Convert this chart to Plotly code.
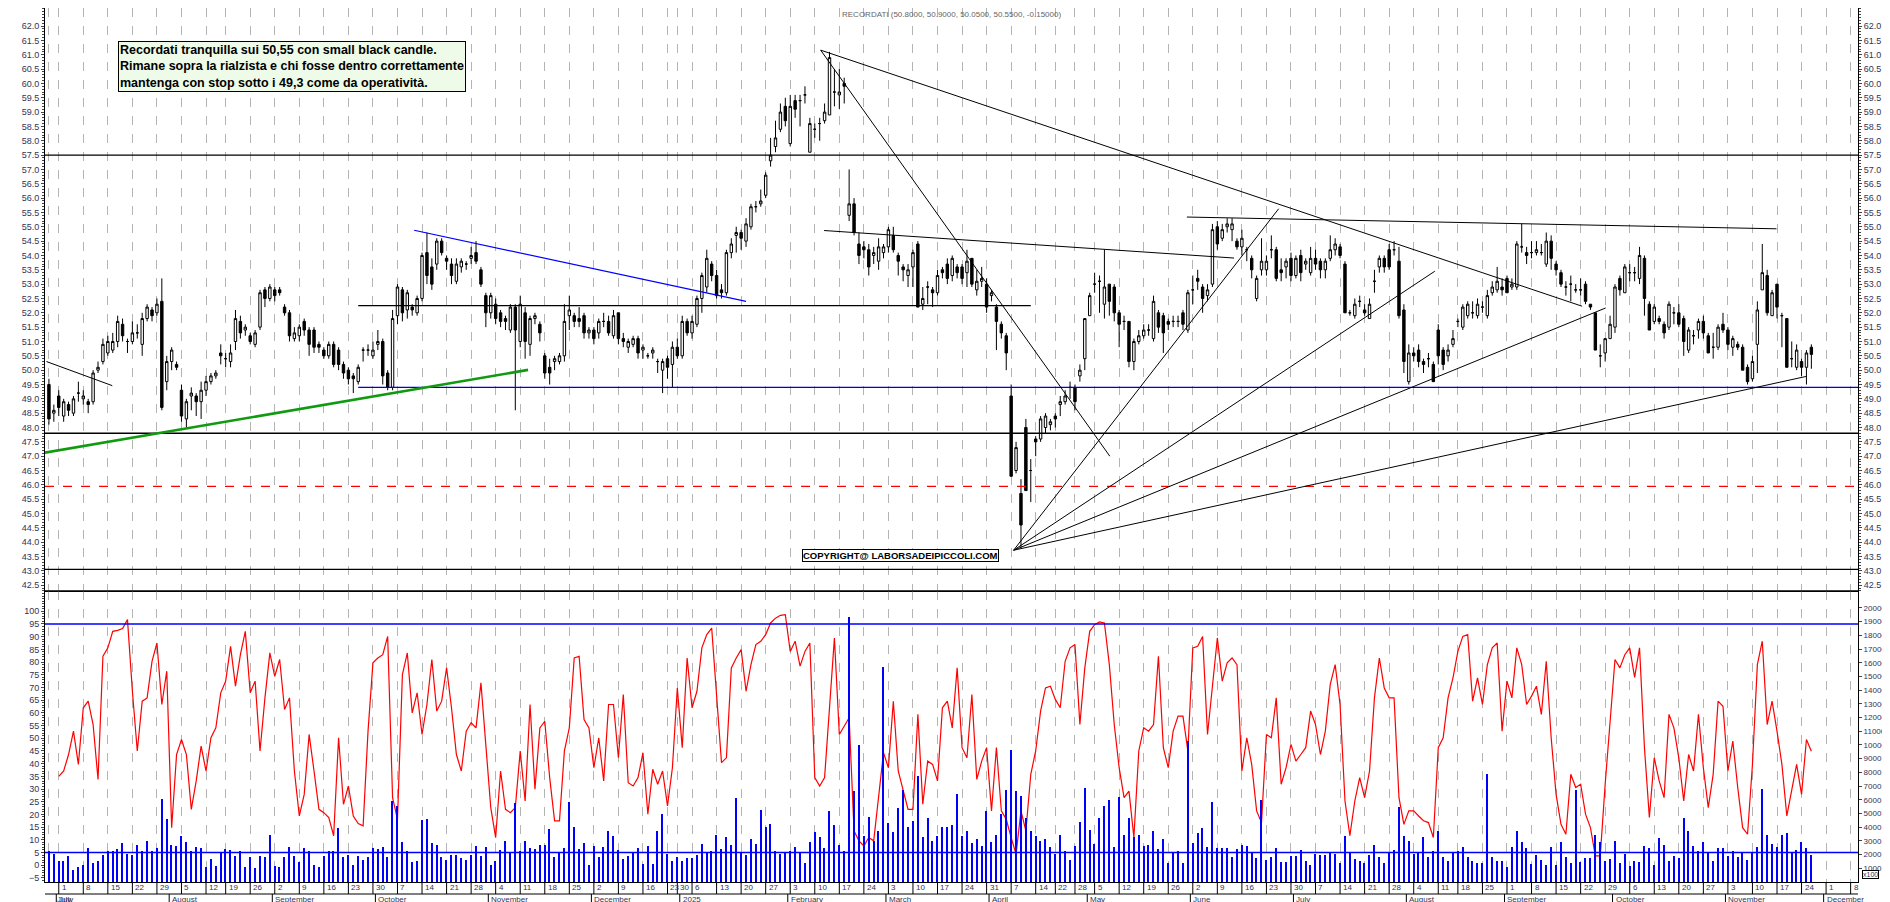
import pandas as pd
import plotly.graph_objects as go

# --- daily candles, Recordati, 27 Jun 2024 -> 26 Nov 2025 (Borsa Italiana trading days)
OPEN = [
    49.5,48.5,49.1,48.4,48.8,48.5,49.2,49.0,48.9,48.9, 50.0,50.3,50.6,50.7,51.0,51.6,51.0,51.0,51.3,50.9,
    51.8,52.1,52.0,52.4,49.6,50.3,50.2,49.3,48.3,49.1, 49.1,48.9,49.3,49.6,49.8,50.6,50.4,50.3,51.0,51.7,
    51.4,51.2,50.9,51.5,52.8,52.5,52.8,52.8,52.2,52.0, 51.1,51.2,51.7,51.4,51.4,50.9,50.7,50.5,50.9,50.7,
    50.2,50.0,49.8,49.6,50.7,50.7,50.5,50.9,51.0,49.9, 49.4,51.9,52.8,52.1,52.2,52.0,52.5,54.1,53.6,53.7,
    54.5,53.9,53.7,53.1,53.6,53.7,53.9,54.1,53.5,52.6, 52.0,52.3,52.0,51.8,51.4,52.2,
    51.0,52.0,50.9,51.8,51.6,50.5,50.1,50.3,50.3,50.5, 51.9,51.9,51.8,51.9,51.3,51.4,51.3,51.7,51.7,51.2,
    52.0,51.1,50.8,50.9,51.1,50.7,50.5,50.6,50.3,50.0, 50.4,50.2,50.8,50.5,51.7,51.3,51.6,52.5,52.9,53.7,
    53.3,52.8,52.7,54.1,54.7,54.8,54.5,55.0,55.7,55.8, 56.1,57.3,57.8,58.4,59.2,57.9,59.4,59.4,59.6,57.6,
    58.4,58.6,58.7,58.9,59.7,59.6,60.0,55.4,55.8,54.4, 54.3,54.2,54.0,53.8,54.1,54.3,54.7,54.0,53.6,53.3,
    53.6,54.4,52.3,52.9,52.8,52.7,53.5,53.7,53.3,53.6, 53.6,53.4,53.9,52.8,
    53.1,53.0,52.6,52.2,51.6,51.2,49.1,46.5,45.7,48.0, 46.5,47.6,47.6,48.0,48.1,48.4,48.8,48.9,49.4,49.4,
    49.8,50.4,51.9,53.0,53.1,52.3,53.0,52.9,52.0,51.7, 51.7,50.3,51.0,
    51.2,51.4,51.1,52.0,51.9,51.7,51.7,51.7,52.0,51.4, 52.8,53.2,52.9,52.6,53.0,55.0,54.6,55.0,54.9,54.5,
    54.3,54.2,53.9,52.5,53.5,53.5,54.2,54.2,53.5,53.6, 53.9,53.3,54.0,53.7,53.4,53.9,53.8,53.5,53.9,54.2,
    54.3,53.7,52.0,51.9,52.4,52.1,51.8,53.1,53.6,53.9, 54.2,54.2,53.8,52.1,49.6,50.6,50.7,50.3,50.4,50.2,
    51.4,50.7,50.5,50.9,51.7,51.5,51.9,52.0,51.9,52.2, 51.9,52.7,52.8,52.9,53.2,52.9,52.9,54.3,54.1,54.1,
    54.1,54.1,53.7,54.5,53.7,53.4,52.9,53.0,52.8,52.8, 53.0,52.3,52.0,50.5,50.6,51.1,51.5,53.2,52.7,53.4,
    53.4,53.2,53.9,52.3,51.7,51.8,51.6,51.5,52.0,52.0, 51.8,50.7,51.2,51.4,51.7,51.2,50.8,50.8,51.6,51.4,
    50.8,50.9,50.8,50.1,49.7,50.9,52.8,53.3,51.9,53.0, 51.9,51.8,50.4,50.1,50.3,50.1,50.8,
]
CLOSE = [
    48.3,48.6,48.7,48.9,48.6,49.0,49.2,49.1,48.8,49.9, 50.1,50.9,51.0,51.0,51.7,51.2,51.0,51.3,51.3,51.8,
    52.2,51.9,52.3,48.7,50.3,50.7,50.1,48.4,48.9,49.2, 48.9,49.3,49.6,49.8,49.9,50.5,50.4,50.6,51.8,51.3,
    51.5,51.0,51.3,52.7,52.5,52.9,52.6,52.7,52.0,51.2, 51.3,51.5,51.4,50.9,50.8,50.8,50.5,50.9,50.2,50.2,
    49.9,49.7,49.7,50.1,50.7,50.7,50.7,51.0,49.8,49.4, 51.8,52.9,52.0,52.7,52.1,52.5,54.0,53.3,53.0,54.5,
    54.1,53.8,53.3,53.7,53.8,53.7,54.0,53.8,53.0,52.0, 52.6,51.8,51.7,51.7,52.2,51.4,
    52.3,51.0,51.8,51.9,51.3,49.9,49.9,50.4,50.5,51.7, 52.1,51.7,51.7,51.3,51.4,51.1,51.7,51.7,51.3,51.9,
    51.1,51.0,51.0,51.1,50.6,50.8,50.5,50.7,50.3,50.3, 50.1,50.8,50.5,51.7,51.3,51.7,52.5,53.3,53.9,53.3,
    52.6,52.7,54.1,54.4,54.8,54.6,55.1,55.7,55.7,55.9, 56.8,57.5,58.1,59.0,58.7,59.2,59.1,59.4,59.6,58.6,
    58.4,58.6,59.0,60.9,59.7,59.7,59.9,55.8,54.8,54.0, 54.2,53.6,54.1,54.3,54.3,54.9,54.2,53.8,53.5,53.5,
    54.1,52.2,52.5,52.9,52.7,53.3,53.4,53.2,53.9,53.4, 53.2,53.8,53.0,53.1,
    53.2,52.2,52.7,51.7,51.3,50.6,46.3,47.3,44.6,45.8, 46.5,47.5,48.3,48.4,48.2,48.3,48.9,49.1,49.4,48.9,
    50.0,51.8,52.6,53.0,53.1,52.9,52.4,52.0,51.6,51.7, 50.3,51.0,51.2,
    51.4,51.4,52.4,51.5,51.3,51.6,51.7,51.7,51.6,52.7, 52.8,53.1,52.5,52.8,54.9,54.4,54.9,55.1,55.1,54.3,
    54.6,54.2,53.5,53.2,53.8,53.8,54.2,53.2,53.4,53.8, 53.3,53.9,53.4,53.8,53.9,53.7,53.5,53.8,54.2,54.4,
    54.0,52.0,52.0,52.3,52.4,52.0,52.3,53.1,53.9,53.6, 53.6,54.2,51.9,50.3,50.6,50.5,50.3,50.2,50.4,49.6,
    50.5,50.2,50.7,51.1,51.7,52.2,52.3,52.0,52.3,52.2, 52.6,52.9,53.1,52.8,52.7,53.0,54.4,54.3,54.0,54.1,
    54.2,54.1,54.5,53.9,53.5,53.0,52.9,53.0,52.8,52.8, 52.4,52.2,50.7,50.5,51.1,51.6,52.9,52.8,53.6,53.4,
    53.4,54.0,52.5,51.4,52.2,51.7,51.3,52.3,52.0,51.6, 51.0,51.4,51.2,51.7,51.3,50.6,50.8,51.5,51.4,50.9,
    51.1,50.8,50.0,49.6,50.3,52.1,53.4,52.0,52.7,52.2, 51.9,50.1,50.4,50.7,50.1,50.6,50.55,
]
HIGH = [
    49.7,48.8,49.3,49.0,48.9,49.1,49.6,49.3,49.0,50.0, 50.3,51.1,51.2,51.3,51.9,51.8,51.1,51.7,51.6,52.0,
    52.3,52.2,52.5,53.2,50.5,50.8,50.3,49.5,49.0,49.4, 49.2,49.6,49.8,49.9,50.0,50.9,50.6,50.9,52.1,51.9,
    51.6,51.3,51.4,52.8,52.9,53.0,52.9,52.9,52.3,52.1, 51.5,51.6,51.8,51.5,51.5,51.0,50.8,51.0,51.0,50.8,
    50.3,50.1,49.9,50.2,50.8,50.9,51.0,51.4,51.1,50.0, 52.1,53.0,52.9,52.8,52.3,52.6,54.1,54.8,53.9,54.6,
    54.6,54.0,53.9,53.9,53.9,53.8,54.3,54.5,53.6,52.7, 52.7,52.5,52.1,51.9,52.3,52.3,
    52.6,52.2,51.9,52.0,51.7,50.6,50.4,50.5,50.6,52.3, 52.6,52.0,52.2,52.0,51.5,51.5,51.8,52.0,51.9,52.1,
    52.0,51.3,51.1,51.2,51.2,50.9,50.6,50.8,50.4,50.4, 50.5,51.0,51.1,51.9,51.8,51.9,52.6,53.4,54.2,53.8,
    53.5,53.0,54.2,54.6,55.0,54.9,55.3,55.8,55.9,56.3, 56.9,58.1,58.7,59.3,59.5,59.6,59.6,59.6,59.9,58.8,
    58.6,58.8,59.3,61.1,60.5,60.5,60.2,57.0,56.0,54.8, 54.5,54.4,54.3,54.6,54.4,55.0,55.0,54.1,53.7,53.7,
    54.2,54.5,52.9,53.1,52.9,53.5,53.6,53.9,54.0,53.7, 53.7,54.2,53.9,53.5,
    53.6,53.2,52.8,52.3,51.7,51.3,49.5,47.5,46.2,48.3, 46.9,47.7,48.4,48.5,48.3,48.5,49.1,49.3,49.6,49.5,
    50.2,51.8,52.7,53.4,53.3,54.2,53.0,53.0,52.1,51.9, 51.7,51.1,51.4,
    51.6,51.6,52.6,52.1,52.0,51.8,51.9,51.9,52.1,52.8, 53.3,53.5,53.0,53.0,55.1,55.2,55.1,55.3,55.3,54.6,
    54.9,54.3,54.0,53.3,54.6,54.0,54.7,54.3,53.9,53.9, 54.1,54.0,54.2,53.9,54.3,54.2,53.9,53.9,54.7,54.6,
    54.4,53.8,52.1,52.5,52.6,52.3,52.5,53.5,54.0,54.0, 54.4,54.5,54.3,52.3,50.9,50.8,50.9,50.4,50.6,50.3,
    51.6,50.8,50.9,51.4,51.8,52.3,52.4,52.4,52.5,52.4, 52.8,53.1,53.6,53.2,53.3,53.2,54.5,55.1,54.3,54.5,
    54.5,54.4,54.8,54.7,53.8,53.5,53.1,53.3,53.0,53.2, 53.1,52.3,52.0,50.9,51.1,51.9,53.0,53.3,53.7,53.7,
    53.6,54.3,54.0,52.4,52.3,51.9,51.7,52.4,52.2,52.3, 51.9,51.5,51.4,51.8,51.9,51.3,51.3,51.6,52.0,51.5,
    51.2,51.0,50.9,50.2,50.5,52.4,54.4,53.5,52.8,53.0, 52.0,51.8,51.0,50.9,50.4,50.7,50.9,
]
LOW = [
    48.1,48.2,48.4,48.2,48.4,48.4,48.9,48.8,48.5,48.8, 49.9,50.2,50.5,50.6,50.8,51.0,50.6,50.9,51.1,50.5,
    51.7,51.7,51.9,48.6,49.3,50.0,50.0,48.2,48.0,48.6, 48.4,48.3,49.1,49.5,49.7,50.2,50.1,50.1,50.7,51.1,
    51.2,50.9,50.8,51.4,52.2,52.4,52.4,52.6,51.9,51.0, 51.0,51.0,51.2,50.5,50.6,50.6,50.4,50.4,50.1,50.0,
    49.7,49.5,49.2,49.5,50.3,50.5,50.4,50.7,49.5,49.3, 49.3,51.6,51.7,51.8,51.9,51.9,52.4,53.0,52.8,53.5,
    54.0,53.5,53.0,53.0,53.4,53.5,53.7,53.7,52.9,51.5, 51.8,51.6,51.5,51.4,51.3,48.6,
    50.8,50.4,50.5,51.6,51.0,49.7,49.5,50.0,50.2,50.3, 51.4,51.5,51.5,51.1,51.1,50.9,51.1,51.5,51.2,51.1,
    50.9,50.8,50.6,50.8,50.4,50.4,50.4,50.4,49.9,49.2, 49.7,49.4,50.4,50.4,51.2,51.1,51.5,52.0,52.7,53.1,
    52.5,52.5,52.6,53.9,54.1,54.2,54.3,54.9,55.5,55.7, 56.0,57.1,57.6,58.3,58.5,57.8,58.8,58.5,59.3,57.6,
    58.1,58.0,58.6,58.9,59.2,59.1,59.3,55.2,54.7,53.7, 53.9,53.3,53.7,53.5,53.9,54.1,54.1,53.3,53.1,52.9,
    52.9,52.2,52.1,52.3,52.2,52.6,53.2,53.0,53.1,53.2, 53.0,52.9,52.9,52.6,
    52.9,52.0,52.4,50.7,51.1,50.0,46.3,46.4,43.8,45.8, 45.4,47.0,47.5,47.8,47.9,48.0,48.4,48.8,49.0,48.6,
    49.6,50.0,51.9,52.7,52.0,51.8,51.9,51.7,50.8,51.4, 50.1,50.0,50.9,
    51.1,51.2,51.0,51.3,50.6,51.4,51.5,51.5,51.4,51.3, 52.3,52.8,52.0,52.4,52.9,54.2,54.5,54.8,54.5,54.2,
    54.0,53.8,53.2,52.4,53.3,53.3,53.9,53.1,53.1,53.2, 53.1,53.2,53.1,53.5,53.3,53.5,53.2,53.2,53.8,54.0,
    53.9,52.0,51.9,51.8,52.2,51.9,51.8,52.7,53.4,53.4, 53.5,54.0,51.8,49.9,49.5,50.3,50.1,49.9,50.1,49.6,
    50.2,50.0,50.3,50.8,51.5,51.4,51.8,51.8,51.8,52.0, 51.8,52.6,52.7,52.6,52.7,52.8,52.8,54.1,53.7,53.9,
    54.0,54.0,53.6,53.5,53.3,52.9,52.6,52.4,52.7,52.6, 52.3,52.1,50.7,50.1,50.3,51.1,51.3,52.6,52.7,53.1,
    53.1,53.0,51.9,51.4,51.6,51.6,51.1,51.4,51.6,51.5, 50.5,50.6,50.9,51.1,51.1,50.6,50.4,50.7,51.3,50.7,
    50.5,50.7,50.0,49.5,49.6,49.9,52.8,51.9,51.9,51.8, 50.8,50.1,50.1,50.0,49.8,49.5,50.05,
]

# --- lower panel: oscillator (left scale) and volume x100 (right scale)
STOCH = [
    35,37.1,43.6,52.8,39.7,62,64.6,55.4,33.8,82.3, 85.6,92.1,92.5,93.2,96.7,68.5,45,64.6,65.9,80.3,
    87.5,63.3,76.4,14.8,43.6,49.5,43.6,22,33.2,46.9, 37.1,50.2,54.1,67.9,72.5,86.2,70.5,82.9,92.1,67.9,
    72.5,45,65.9,83.6,74.4,81,61.3,65.9,37.1,19.4, 27.9,51.5,37.1,22,20.7,18.8,11.6,50.2,24,31.2,
    19.4,16.4,15.5,52.8,79.7,81.6,82.9,90.1,26.6,18.1, 75.1,83.6,60,67.9,51.5,63.3,81,60.7,64.6,77.7,
    62,43.6,37.1,52.8,56.1,54.1,71.8,46.3,22.7,10.9, 37.1,22,20.7,22.7,45,25.3,63.3,29.9,54.1,56.7,
    34.5,17.5,17.5,45,54.1,81.6,82.3,57.4,54.1,38.4, 50.2,33.2,63.3,63.3,42.3,67.2,32.5,31.2,34.5,44.3,
    20.1,37.8,31.9,37.1,23.4,38.4,69.8,46.3,81.6,62, 68.5,85.6,90.8,93.4,65.9,40.4,42.3,77.7,81.6,84.9,
    68.5,79,86.9,88.2,90.8,95.4,97.3,98.4,98.7,84.2, 88.2,78.4,84.2,87.5,34.5,31.2,34.5,63.3,89.5,51.5,
    54.8,58.1,13.5,9.6,7.6,10.9,9.6,27.9,44.3,38.4, 64.6,37.1,29.2,22,22,59.4,24,41,39.7,33.2,
    62,64.6,54.1,77.7,46.3,42.3,67.2,33.8,41,46.3, 21.4,46.3,21.4,18.1,10.9,4.4,21.4,13.5,35.8,45,
    60.7,69.8,70.5,65.3,62,80.3,85.6,86.9,55.4,77.7, 92.1,94.7,95.8,95.4,79,55.4,38.4,26.6,29.2,10.9,
    45,54.1,52.8,55.4,82.3,46.3,38.4,52.8,58.7,58.7, 45,85.6,86.2,90.1,51.5,71.2,89.5,72.5,79.7,81.6,
    79,37.1,50.2,39.7,21.4,16.8,51.5,50.2,65.9,31.9, 38.4,47.6,41,43.6,46.3,60.7,55.4,43.6,52.8,71.2,
    79,63.3,25.3,11.6,25.3,34.5,26.6,37.1,65.9,81.6, 69.8,65.9,65.9,26.6,16.1,21.4,21.4,19.4,17.5,16.8,
    10.9,46.3,50.2,65.9,73.8,84.2,90.1,90.8,64.6,73.8, 63.3,79,85.6,87.5,52.8,72.5,65.9,85.6,79,63.3,
    66.6,70.5,59.4,80.3,50.2,27.9,16.1,12.2,35.8,30.6, 31.9,20.1,14.8,3.7,3.7,31.9,58.1,81,77.7,82.9,
    85.6,74,85.6,46.3,18.8,42.3,33.2,26.6,59.4,54.1, 42.3,25.3,43.6,37.1,59.4,38.4,22.7,35.8,64.6,62.6,
    37.1,48.9,30.6,14.8,12.2,39.7,79,88.2,55.4,64.6, 52.8,39.7,19.4,29.2,39.7,27.9,49.5,44.9,
]
VOLUME = [
    2300,2050,1570,1520,1930,850,1090,1210,2490,1380, 1520,2010,2300,2250,2420,2830,2050,2010,2730,2300,
    2970,2300,2490,6040,4590,2730,2660,3380,2900,2300, 2590,2490,1090,1670,1190,2150,2420,2340,1930,2250,
    1090,1860,1040,1930,1860,3460,1140,1090,1810,2540, 1930,1450,2490,2250,1210,1090,1930,2250,2250,3920,
    1810,2010,1210,1930,1620,1810,2490,2420,2590,1810, 5920,5560,2900,2250,1450,1570,4520,4590,2830,2730,
    1860,1620,1980,1980,1760,1620,2010,2660,1930,2540, 1210,1570,2340,3020,2100,5800,2300,2970,2490,2420,
    2730,2730,3870,1810,2180,2490,5870,3990,2420,2830, 1210,2660,1810,2540,3700,3380,2340,1690,1930,2100,
    2490,1330,2660,1330,3700,
    5000,2050,1520,1810,1570,1760,1760,2010,2780,2150, 2300,3460,2390,3260,2730,6160,2100,2010,3120,2780,
    5290,3990,4230,2300,2050,2100,2250,2540,2220,1380, 2900,3630,3260,2490,5200,4130,2730,2300,19340,6650,
    10030,3380,4760,2970,3750,15710,4280,3630,5440,6740, 3990,4420,7730,3260,4710,3020,3360,4040,3990,4180,
    6450,3360,3700,2830,3120,2630,5200,2900,3460,4950, 6740,9670,6650,6280,4710,3750,3360,2970,3120,2540,
    2050,3460,2250,1620,2630,4350,6890,3790,2780,4710, 5530,5970,2540,6210,3410,4710,3260,3460,2660,2730,
    3750,2390,3120,1380,2100,2250,1380,10320,2830,3550, 3940,2540,5870,2490,2490,2490,1810,2390,2680,2660,
    2150,1760,6020,1620,1810,
    2490,1430,1430,1930,1930,2340,1520,1230,2050,1980, 1960,2100,2050,1380,3380,2100,1690,1570,1380,2010,
    2730,1860,1380,2100,2340,5490,3380,3020,2050,2100, 3260,1860,2250,3700,1810,1570,2220,2250,2590,1860,
    1570,1380,1380,7900,1860,1570,1520,1090,2540,3750, 2950,2490,1330,1980,1620,1210,2590,1210,2900,1860,
    1380,6700,1450,1740,1740,3460,2900,1520,1690,2970, 1380,2050,1140,1570,1430,2660,2490,1210,3210,2730,
    1520,1890,1740,4710,3750,2610,2300,2900,2100,1570, 2470,2470,1930,2300,1810,2100,1640,2100,2540,6820,
    3460,2780,2590,3430,3550,2100,2340,2900,2470,2010,
]

PRICE_TICKS = [42.5 + 0.5 * k for k in range(40)]      # 42.5 .. 62.0
OSC_TICKS = list(range(-5, 101, 5))                     # -5 .. 100
VOL_TICKS = list(range(1000, 20001, 1000))              # 1000 .. 20000

HOLIDAYS = ["2024-08-15", "2024-12-24", "2024-12-25", "2024-12-26", "2024-12-31",
            "2025-01-01", "2025-04-18", "2025-04-21", "2025-05-01", "2025-08-15"]
MONTH_NAMES = ["", "January", "February", "March", "April", "May", "June", "July",
               "August", "September", "October", "November", "December"]

NOTE = ("<b>Recordati tranquilla sui 50,55 con small black candle.<br>"
        "Rimane sopra la rialzista e chi fosse dentro correttamente<br>"
        "mantenga con stop sotto i 49,3 come da operatività.</b>")
HEADER = "RECORDATI (50.8000, 50.9000, 50.0500, 50.5500, -0.15000)"

# calendar: weekdays without exchange holidays, extended to the right edge of the chart
days = pd.bdate_range("2024-06-27", "2025-12-12")
days = days[~days.isin(pd.to_datetime(HOLIDAYS))]
n = len(CLOSE)
idx = list(range(n))

# weekly ticks = first trading day of each week, month markers = first trading day of month
week_ticks, week_text, month_pos, month_text = [], [], [], []
prev = None
for i, d in enumerate(days):
    wk = d.isocalendar()[:2]
    if wk != prev:
        week_ticks.append(i)
        week_text.append(str(d.day))
        prev = wk
    if i > 0 and d.month != days[i - 1].month:
        month_pos.append(i - 0.5)
        month_text.append("2025" if (d.year == 2025 and d.month == 1) else MONTH_NAMES[d.month])

X0, X1 = -0.8, 368.5
LBL = dict(size=9, color="#333355", family="Arial")
SMALL = dict(size=8, color="#333355", family="Arial")
BOTTOM = 28
PLOT_H = 902 - BOTTOM
STRIP = -12 / PLOT_H

fig = go.Figure()
fig.add_trace(go.Candlestick(
    x=idx, open=OPEN, high=HIGH, low=LOW, close=CLOSE,
    increasing=dict(line=dict(color="black", width=1), fillcolor="white"),
    decreasing=dict(line=dict(color="black", width=1), fillcolor="black"),
    whiskerwidth=0, xaxis="x", yaxis="y", showlegend=False, hoverinfo="skip"))
fig.add_trace(go.Bar(
    x=idx[n - len(VOLUME):], y=VOLUME, width=0.28, marker=dict(color="#0000ff", line_width=0),
    xaxis="x2", yaxis="y3", showlegend=False))
fig.add_trace(go.Scatter(
    x=idx[n - len(STOCH):], y=STOCH, mode="lines", line=dict(color="#ff0000", width=1.2),
    xaxis="x2", yaxis="y2", showlegend=False))
# invisible point so the left price axis is drawn
fig.add_trace(go.Scatter(x=[X0], y=[50], mode="markers", marker=dict(opacity=0),
                         xaxis="x", yaxis="y4", showlegend=False, hoverinfo="skip"))

shapes = []
def seg(x0, y0, x1, y1, color="black", width=1, dash="solid", yref="y", xref="x"):
    shapes.append(dict(type="line", xref=xref, yref=yref, x0=x0, y0=y0, x1=x1, y1=y1,
                       line=dict(color=color, width=width, dash=dash), layer="above"))

# horizontal levels
seg(0, 57.5, 1, 57.5, width=1.3, xref="paper")
seg(0, 47.8, 1, 47.8, width=1.3, xref="paper")
seg(0, 43.05, 1, 43.05, width=1.3, xref="paper")
seg(0, 45.95, 1, 45.95, color="#ff0000", width=1.3, dash="dash", xref="paper")
seg(63, 49.4, X1, 49.4, color="#0000dd", width=1.3)
seg(63, 52.25, 200, 52.25, width=1.2)
# trend lines
seg(-0.5, 50.3, 12.9, 49.46)
seg(-2, 47.09, 97.6, 50.01, color="#109a10", width=2.6)
seg(74.4, 54.88, 142, 52.4, color="#0000ff", width=1.2)
seg(157.2, 61.16, 216.1, 47.0)
seg(157.2, 61.16, 312.3, 52.23)
seg(157.9, 54.87, 241.4, 53.91)
seg(231.8, 55.34, 351.9, 54.93)
for ex, ey in [(250.5, 55.63), (282.3, 53.45), (317.1, 52.17), (357.9, 49.78)]:
    seg(196.5, 43.72, ex, ey)
# oscillator bands
seg(0, 95, 1, 95, color="#0000ff", width=1.5, xref="paper", yref="y2")
seg(0, 5, 1, 5, color="#0000ff", width=1.5, xref="paper", yref="y2")
# panel separator and date strip
shapes.append(dict(type="line", xref="paper", yref="paper", x0=0, x1=1, y0=0.333, y1=0.333,
                   line=dict(color="black", width=1.5)))
shapes.append(dict(type="line", xref="paper", yref="paper", x0=0, x1=1, y0=STRIP, y1=STRIP,
                   line=dict(color="black", width=1.2)))

annotations = []
for p, t in zip(week_ticks, week_text):
    if p < 1 or p > X1:
        continue
    shapes.append(dict(type="line", xref="x2", yref="paper", x0=p, x1=p, y0=0, y1=STRIP,
                       line=dict(color="black", width=1)))
    annotations.append(dict(x=p + 0.4, y=0, xref="x2", yref="paper", text=t,
                            showarrow=False, xanchor="left", yanchor="top", font=SMALL,
                            borderpad=0))
for p, t in zip(month_pos, month_text):
    shapes.append(dict(type="line", xref="x2", yref="paper", x0=p, x1=p, y0=STRIP,
                       y1=-BOTTOM / PLOT_H, line=dict(color="black", width=1)))
    annotations.append(dict(x=p + 0.4, y=STRIP, xref="x2", yref="paper", text=t,
                            showarrow=False, xanchor="left", yanchor="top", font=SMALL,
                            borderpad=0))
annotations.append(dict(x=1.4, y=STRIP, xref="x2", yref="paper", text="July",
                        showarrow=False, xanchor="left", yanchor="top", font=SMALL, borderpad=0))

annotations += [
    dict(x=0.04, y=0.962, xref="paper", yref="paper", text=NOTE, showarrow=False,
         xanchor="left", yanchor="top", align="left", bgcolor="#eefbe8", bordercolor="black",
         borderwidth=1, borderpad=1, font=dict(size=12.5, color="black", family="Liberation Sans")),
    dict(x=0.4175, y=0.381, xref="paper", yref="paper", text="<b>COPYRIGHT@ LABORSADEIPICCOLI.COM</b>",
         showarrow=False, xanchor="left", yanchor="top", bgcolor="white", bordercolor="black",
         borderwidth=1, borderpad=0, font=dict(size=9.5, color="black", family="Liberation Sans")),
    dict(x=0.5, y=1.0, xref="paper", yref="paper", text=HEADER, showarrow=False,
         xanchor="center", yanchor="top", font=dict(size=8, color="#666666", family="Arial")),
    dict(x=1.002, y=0.004, xref="paper", yref="paper", text="x100", showarrow=False,
         xanchor="left", yanchor="bottom", bordercolor="black", borderwidth=1, borderpad=0,
         font=dict(size=7, color="#333355", family="Arial")),
]

xcommon = dict(range=[X0, X1], tickmode="array", tickvals=week_ticks, showgrid=True,
               gridcolor="#b4b4b4", griddash="dash", gridwidth=1, zeroline=False,
               showline=True, linecolor="black", linewidth=1.2, fixedrange=True,
               showticklabels=False, ticks="")
yprice = dict(tickmode="array", tickvals=PRICE_TICKS, ticktext=[f"{v:.1f}" for v in PRICE_TICKS],
              ticks="outside", ticklen=3,
              minor=dict(tickmode="linear", tick0=42.3, dtick=0.1, ticklen=2, ticks="outside"),
              showgrid=False, zeroline=False, showline=True, linecolor="black", tickfont=LBL)
fig.update_layout(
    width=1890, height=902, margin=dict(l=37, r=40, t=0, b=BOTTOM),
    paper_bgcolor="white", plot_bgcolor="white", bargap=0, shapes=shapes,
    annotations=annotations, showlegend=False,
    xaxis=dict(**xcommon, domain=[0, 1], anchor="y", rangeslider=dict(visible=False)),
    xaxis2=dict(**xcommon, domain=[0, 1], anchor="y2", matches="x"),
    yaxis=dict(**yprice, domain=[0.333, 1], range=[42.3, 62.63], side="right", anchor="x"),
    yaxis4=dict(**yprice, overlaying="y", matches="y", side="left", anchor="x"),
    yaxis2=dict(domain=[0, 0.333], range=[-6.6, 108], side="left", tickmode="array",
                tickvals=OSC_TICKS, ticks="outside", ticklen=3, showgrid=False, zeroline=False,
                minor=dict(tickmode="linear", tick0=-6, dtick=1, ticklen=2, ticks="outside"),
                showline=True, linecolor="black", tickfont=LBL, anchor="x2"),
    yaxis3=dict(overlaying="y2", side="right", range=[0, 21240], tickmode="array",
                tickvals=VOL_TICKS, ticktext=[str(v) for v in VOL_TICKS], ticks="outside",
                ticklen=3, showgrid=False, zeroline=False, showline=True, linecolor="black",
                tickfont=dict(size=8, color="#333355", family="Arial"), anchor="x2"),
)

fig.write_html("out.html")
